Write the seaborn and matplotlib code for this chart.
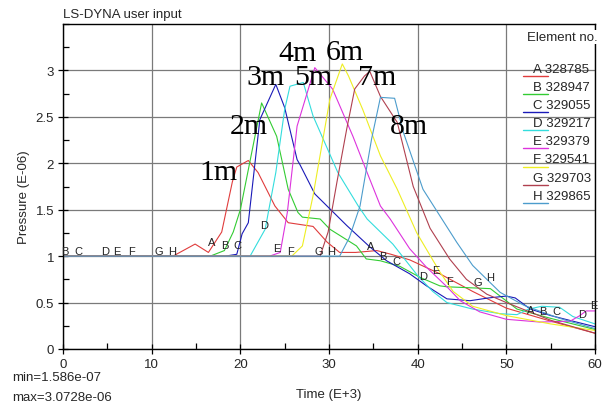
import numpy as np
import pandas as pd
import matplotlib
matplotlib.use("Agg")
import matplotlib.pyplot as plt
import seaborn as sns
from matplotlib.ticker import MultipleLocator

# ---------------- data ----------------
letters = ["A", "B", "C", "D", "E", "F", "G", "H"]
element_ids = ["328785", "328947", "329055", "329217", "329379", "329541", "329703", "329865"]
colors = ["#e03c3c", "#33cc33", "#1a1ab8", "#33dddd", "#dd33dd", "#eeee22", "#b0404f", "#4c9ccc"]

a_x = [0, 12.4, 14.9, 16.4, 17.9, 19.1, 19.6, 20.9, 22.0, 23.9, 25.4, 28.2, 29.8, 31.2, 33.0, 35.4, 37.0, 39.1, 42.5, 46.2, 50, 55, 60]
a_y = [1, 1, 1.13, 1.04, 1.26, 1.80, 1.96, 2.03, 1.9, 1.54, 1.36, 1.32, 1.15, 1.04, 1.04, 1.06, 1.02, 0.96, 0.81, 0.62, 0.44, 0.30, 0.17]

b_x = [0, 16.6, 18.2, 19.2, 20.0, 22.4, 24.1, 25.4, 26.5, 27.0, 29.0, 30.1, 33.1, 34.2, 35.8, 38.0, 40.3, 42.5, 43.3, 48.2, 51.2, 55, 60]
b_y = [1, 1, 1.06, 1.26, 1.5, 2.65, 2.29, 1.72, 1.47, 1.42, 1.40, 1.29, 1.11, 0.97, 0.95, 0.89, 0.77, 0.68, 0.67, 0.65, 0.43, 0.33, 0.21]

c_x = [0, 18.3, 19.6, 20.2, 20.9, 22.2, 24.0, 25.0, 26.4, 26.7, 28.4, 32.0, 34.6, 36.5, 39.1, 41.0, 43.3, 45.9, 48, 50.0, 51, 52.7, 55, 60]
c_y = [1, 1, 1.02, 1.24, 1.36, 2.47, 2.85, 2.60, 2.04, 1.99, 1.67, 1.33, 1.10, 0.95, 0.81, 0.68, 0.54, 0.52, 0.55, 0.57, 0.55, 0.43, 0.36, 0.24]

d_x = [0, 21.1, 22.8, 24, 25.0, 25.6, 27.1, 28.2, 31.0, 33.3, 34.3, 37.2, 40, 41.7, 43.3, 46.2, 49.3, 51.2, 52.5, 54, 56, 57.5, 60]
d_y = [1, 1, 1.29, 1.9, 2.58, 2.83, 2.87, 2.51, 1.9, 1.54, 1.40, 1.13, 0.79, 0.62, 0.5, 0.43, 0.38, 0.37, 0.43, 0.46, 0.45, 0.35, 0.27]

e_x = [0, 23.3, 24.5, 25.3, 26.4, 28.4, 30.4, 32.7, 34.3, 35.8, 36.9, 39.1, 41, 43.3, 44.8, 47, 50, 53.8, 57.2, 58.3, 59, 60]
e_y = [1, 1, 1.04, 1.47, 2.4, 3.03, 2.8, 2.29, 1.9, 1.54, 1.40, 1.08, 0.88, 0.67, 0.52, 0.40, 0.32, 0.29, 0.30, 0.36, 0.41, 0.41]

f_x = [0, 25.8, 27.0, 28.2, 30.1, 31.5, 32.2, 33.8, 35.8, 37.7, 39.9, 42.5, 44, 46.2, 50, 55, 60]
f_y = [1, 1, 1.11, 1.65, 2.69, 3.07, 2.94, 2.58, 2.08, 1.72, 1.25, 0.83, 0.62, 0.46, 0.36, 0.27, 0.2]

g_x = [0, 29.0, 29.9, 30.9, 32.0, 32.9, 34.0, 34.6, 35.8, 37.7, 39.5, 41.4, 43.6, 45.5, 47.8, 50, 55, 60]
g_y = [1, 1, 1.26, 1.8, 2.37, 2.8, 2.94, 2.99, 2.72, 2.44, 1.75, 1.3, 0.97, 0.75, 0.59, 0.5, 0.31, 0.17]

h_x = [0, 31.2, 32.3, 33.5, 34.8, 35.8, 37.4, 38.4, 40.6, 41.4, 44.4, 46.2, 49.3, 52, 56, 60]
h_y = [1, 1.0, 1.2, 1.54, 2.26, 2.71, 2.70, 2.33, 1.72, 1.6, 1.15, 0.9, 0.61, 0.47, 0.33, 0.22]

curve_x = [a_x, b_x, c_x, d_x, e_x, f_x, g_x, h_x]
curve_y = [a_y, b_y, c_y, d_y, e_y, f_y, g_y, h_y]

# positions (time) of the curve letter labels
label_t = [
    [16.8, 34.7, 52.7],
    [0.2, 18.2, 36.1, 54.1],
    [1.7, 19.7, 37.6, 55.6],
    [4.7, 22.7, 40.6, 58.6],
    [6.1, 24.1, 42.0, 59.9],
    [7.7, 25.7, 43.6],
    [10.8, 28.8, 46.8],
    [12.3, 30.2, 48.2],
]

dist_labels = ["1m", "2m", "3m", "4m", "5m", "6m", "7m", "8m"]
dist_x = [17.5, 20.9, 22.8, 26.4, 28.2, 31.8, 35.4, 39.0]
dist_y = [1.91, 2.40, 2.93, 3.19, 2.93, 3.20, 2.93, 2.40]

x_ticks = [0, 10, 20, 30, 40, 50, 60]
y_ticks = [0, 0.5, 1, 1.5, 2, 2.5, 3]
y_tick_labels = ["0", "0.5", "1", "1.5", "2", "2.5", "3"]

# ---------------- build frame ----------------
rows = []
for L, xs, ys in zip(letters, curve_x, curve_y):
    for xv, yv in zip(xs, ys):
        rows.append({"time": xv, "pressure": yv, "curve": L})
df = pd.DataFrame(rows)

sns.set_theme(style="white")
plt.rcParams["font.family"] = ["Liberation Sans", "DejaVu Sans"]

fig = plt.figure(figsize=(6.11, 4.10), dpi=100)
ax = fig.add_axes([63 / 611, 1 - 350 / 410, 532 / 611, 325 / 410])

ax.grid(True, color="#7a7a7a", linewidth=0.9, zorder=0)
ax.set_axisbelow(True)

sns.lineplot(data=df, x="time", y="pressure", hue="curve", palette=dict(zip(letters, colors)),
             sort=False, estimator=None, legend=False, linewidth=0.8, ax=ax)

ax.set_xlim(0, 60)
ax.set_ylim(0, 3.5)
ax.set_xticks(x_ticks)
ax.set_xticklabels([str(t) for t in x_ticks], fontsize=9.5)
ax.set_yticks(y_ticks)
ax.set_yticklabels(y_tick_labels, fontsize=9.5)
ax.xaxis.set_minor_locator(MultipleLocator(5))
ax.yaxis.set_minor_locator(MultipleLocator(0.25))
ax.tick_params(axis="both", which="major", direction="inout", length=7, width=0.9, color="black",
               bottom=True, left=True, pad=3)
ax.tick_params(axis="both", which="minor", direction="in", length=4, width=0.9, color="black",
               bottom=True, left=True)
for s in ax.spines.values():
    s.set_color("black")
    s.set_linewidth(1.0)

ax.set_xlabel("Time (E+3)", fontsize=9.5, labelpad=13)
ax.set_ylabel("Pressure (E-06)", fontsize=9.5, labelpad=6)
ax.yaxis.set_label_coords(-0.062, 0.47)

# curve letters
for L, xs, ys, ts, col in zip(letters, curve_x, curve_y, label_t, colors):
    for t in ts:
        yv = np.interp(t, xs, ys)
        ax.text(t, yv + 0.005, L, fontsize=8, color="#222222", ha="center", va="bottom", zorder=4)

# distance annotations
for lab, xv, yv in zip(dist_labels, dist_x, dist_y):
    ax.text(xv, yv, lab, fontsize=21.5, family=["Liberation Serif", "DejaVu Serif"],
            ha="center", va="center", color="black", zorder=5)

# legend block
tr = ax.transAxes
def ax_xy(px, py):
    return ((px - 63) / 532, (350 - py) / 325)

bx, by = ax_xy(527, 38)
ax.text(bx, by, "Element no.", transform=tr, fontsize=9.5, ha="left", va="center", zorder=6,
        bbox=dict(facecolor="white", edgecolor="none", pad=1))
for i, (L, eid, col) in enumerate(zip(letters, element_ids, colors)):
    cy = 70 + i * 18.1
    lx0, ly = ax_xy(523, cy + 7)
    lx1, _ = ax_xy(548, cy + 7)
    ax.plot([lx0, lx1], [ly, ly], transform=tr, color=col, linewidth=1.0, zorder=6, clip_on=False)
    tx, ty = ax_xy(533, cy)
    ax.text(tx, ty, f"{L} {eid}", transform=tr, fontsize=9.5, ha="left", va="center", zorder=6)

# title and min/max
fig.text(63 / 611, 1 - 15 / 410, "LS-DYNA user input", fontsize=9.5, ha="left", va="center")
fig.text(12 / 611, 1 - 378 / 410, "min=1.586e-07", fontsize=9.5, ha="left", va="center")
fig.text(12 / 611, 1 - 398 / 410, "max=3.0728e-06", fontsize=9.5, ha="left", va="center")

fig.savefig("out.png", dpi=100, facecolor="white")
